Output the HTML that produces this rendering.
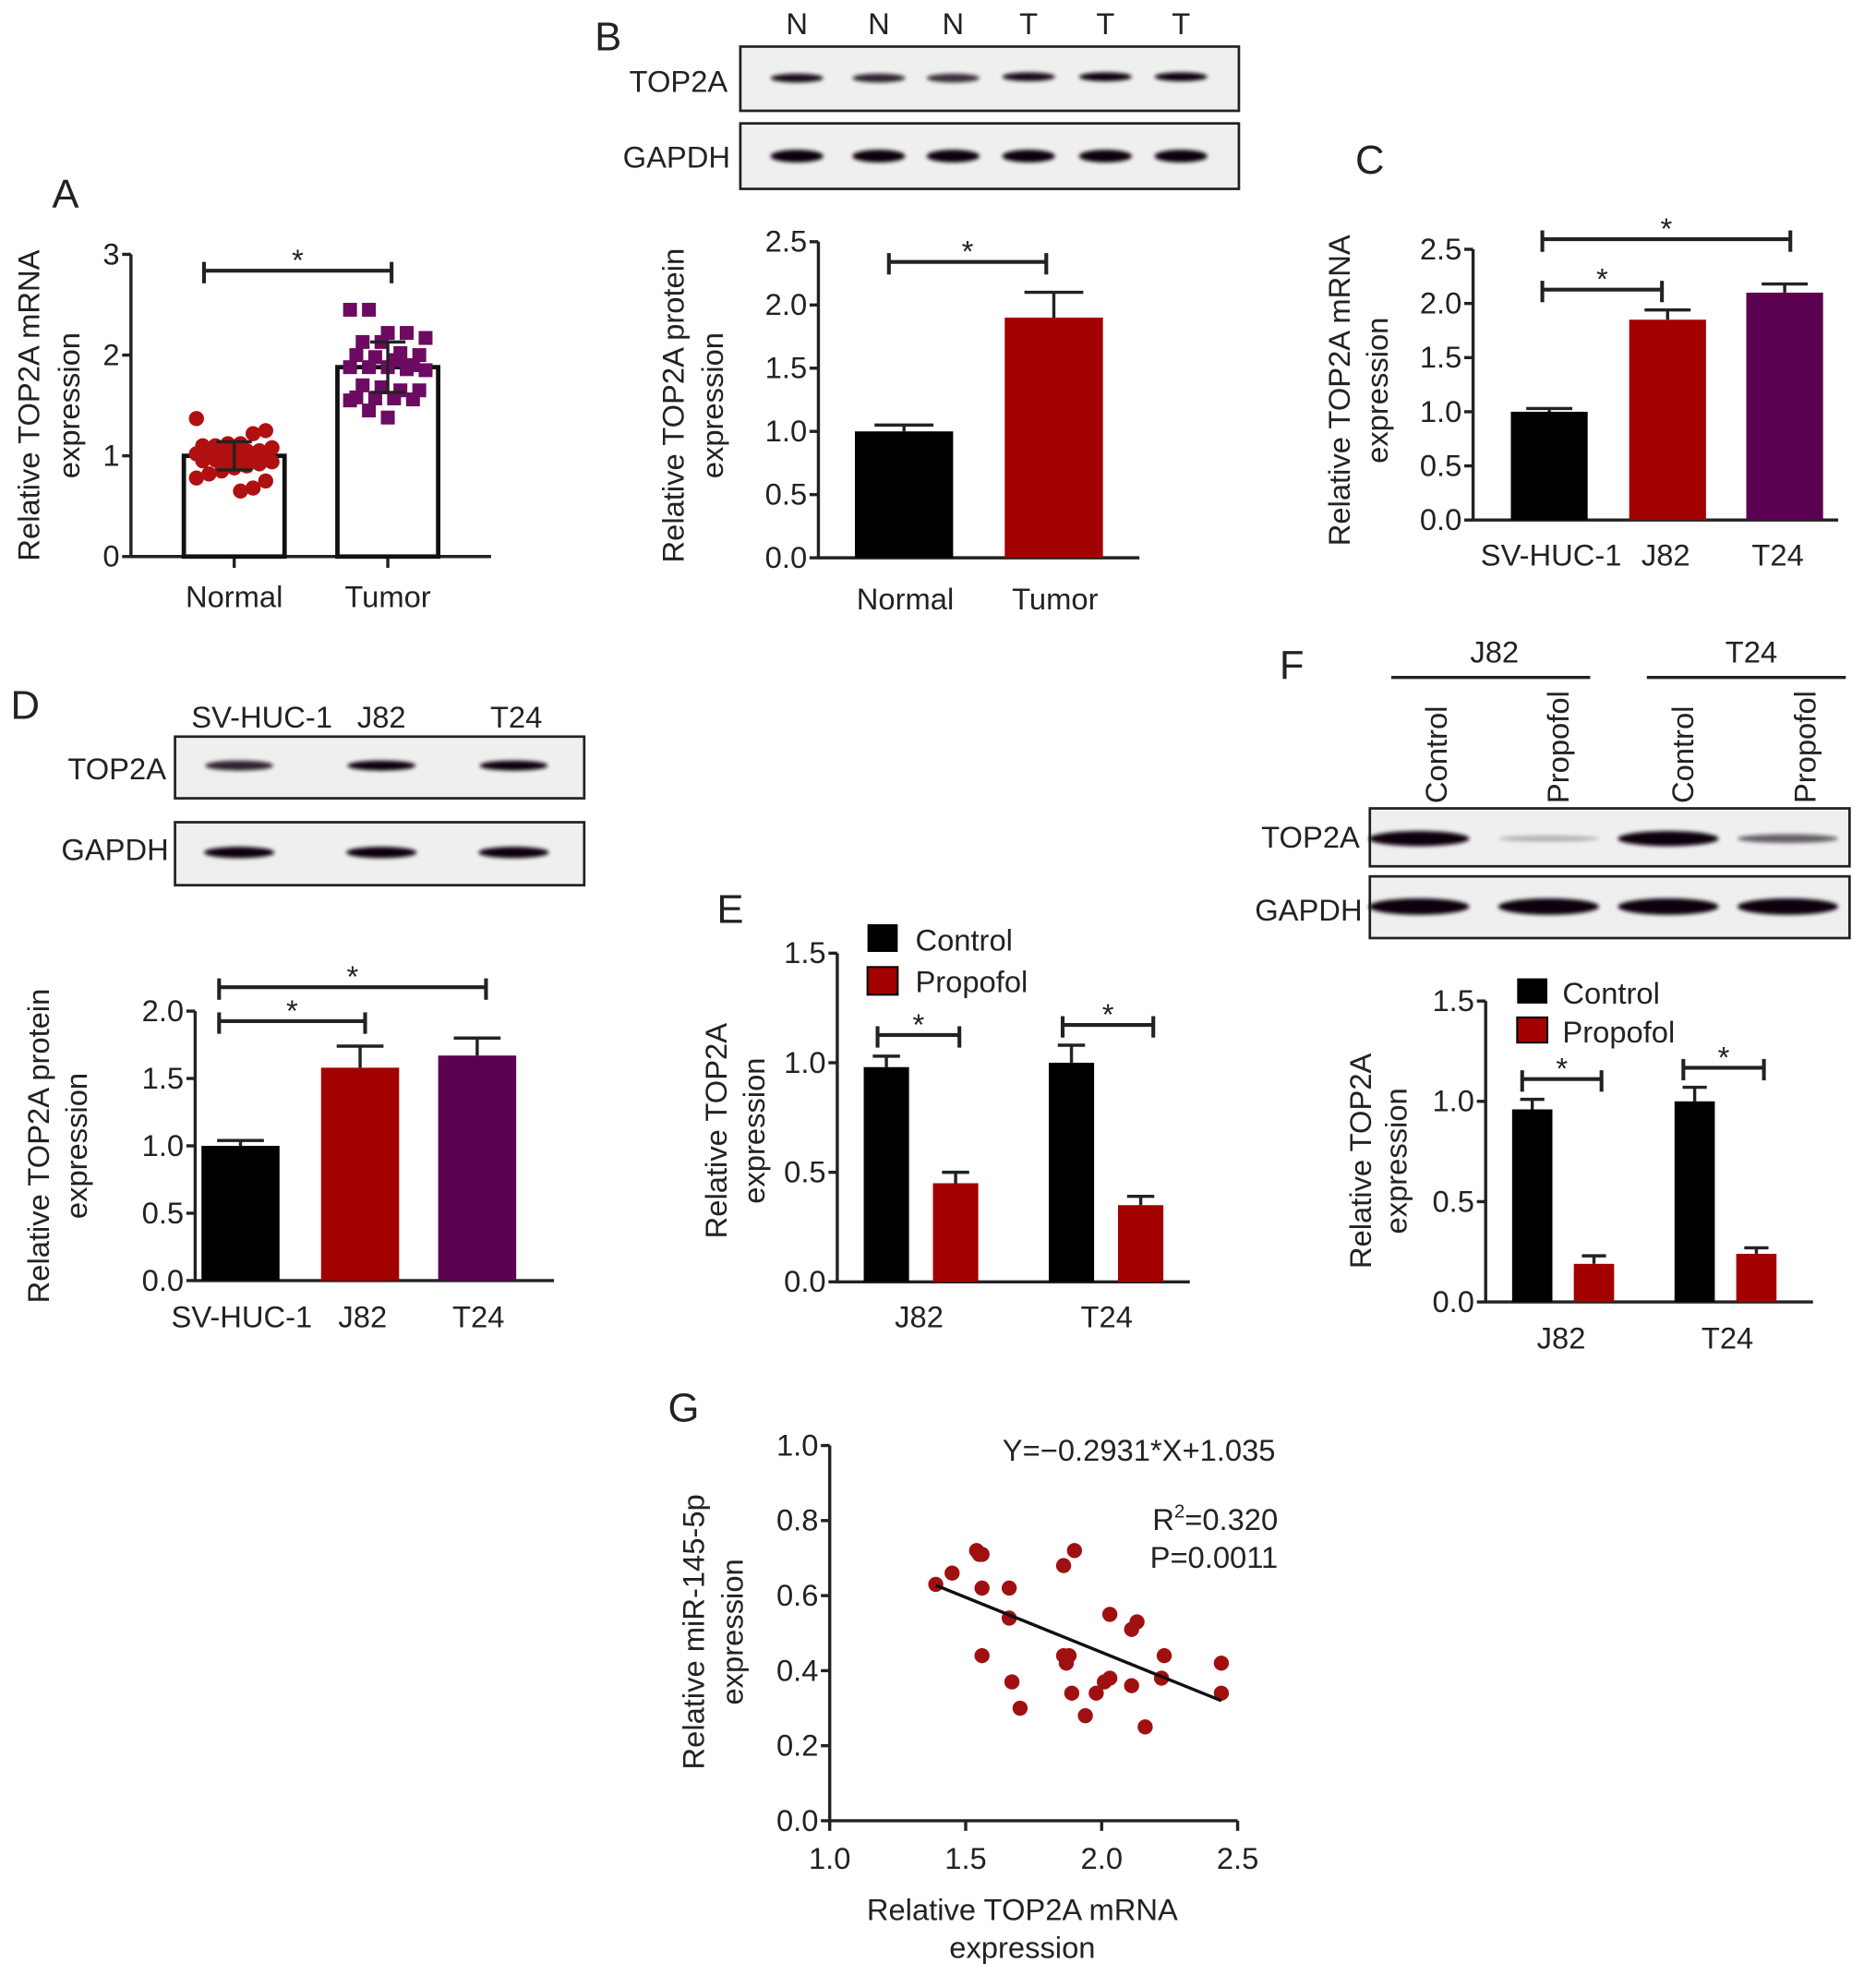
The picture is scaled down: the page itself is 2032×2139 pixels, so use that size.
<!DOCTYPE html>
<html><head><meta charset="utf-8">
<style>
html,body{margin:0;padding:0;background:#fff;}
svg{display:block;}
text{font-family:"Liberation Sans",Arial,sans-serif;fill:#222;}
</style></head>
<body>
<svg id="fig" xmlns="http://www.w3.org/2000/svg" width="2032" height="2139" viewBox="0 0 1490 1568.5">
<defs><filter id="blur" x="-20%" y="-100%" width="140%" height="300%"><feGaussianBlur stdDeviation="1.6"/></filter></defs>
</svg>
<script>
// ---------- data ----------
const aCategories = ["Normal","Tumor"];
const aMeans = [1.0, 1.88];
const aSD = [0.14, 0.25];
const aNormalPts = [1.37,1.25,1.22,1.12,1.12,1.1,1.1,1.08,1.05,1.05,1.04,1.03,1.02,1.02,1.0,1.0,0.98,0.97,0.96,0.95,0.94,0.92,0.9,0.88,0.85,0.82,0.78,0.75,0.68,0.65];
const aTumorPts = [2.45,2.45,2.22,2.22,2.17,2.13,2.13,2.02,2.0,2.0,1.98,1.95,1.9,1.88,1.88,1.88,1.86,1.85,1.7,1.68,1.65,1.65,1.58,1.57,1.57,1.56,1.55,1.45,1.38,1.9];
const aTicks = ["0","1","2","3"];

const bCategories = ["Normal","Tumor"];
const bValues = [1.0, 1.9];
const bErr = [0.05, 0.2];
const bTicks = ["0.0","0.5","1.0","1.5","2.0","2.5"];

const cCategories = ["SV-HUC-1","J82","T24"];
const cValues = [1.0, 1.85, 2.1];
const cErr = [0.03, 0.09, 0.08];
const cTicks = ["0.0","0.5","1.0","1.5","2.0","2.5"];

const dCategories = ["SV-HUC-1","J82","T24"];
const dValues = [1.0, 1.58, 1.67];
const dErr = [0.04, 0.16, 0.13];
const dTicks = ["0.0","0.5","1.0","1.5","2.0"];

const eGroups = ["J82","T24"];
const eControl = [0.98, 1.0];
const eControlErr = [0.05, 0.08];
const ePropofol = [0.45, 0.35];
const ePropofolErr = [0.05, 0.04];
const eTicks = ["0.0","0.5","1.0","1.5"];

const fGroups = ["J82","T24"];
const fControl = [0.96, 1.0];
const fControlErr = [0.05, 0.07];
const fPropofol = [0.19, 0.24];
const fPropofolErr = [0.04, 0.03];
const fTicks = ["0.0","0.5","1.0","1.5"];

const gX = [1.39,1.45,1.54,1.55,1.56,1.56,1.56,1.66,1.66,1.67,1.70,1.86,1.90,1.86,1.88,1.87,1.89,1.94,1.98,2.01,2.03,2.03,2.11,2.13,2.11,2.16,2.22,2.23,2.44,2.44];
const gY = [0.63,0.66,0.72,0.71,0.71,0.62,0.44,0.62,0.54,0.37,0.30,0.68,0.72,0.44,0.44,0.42,0.34,0.28,0.34,0.37,0.38,0.55,0.51,0.53,0.36,0.25,0.38,0.44,0.42,0.34];
const gSlope = -0.2931;
const gIntercept = 1.035;
const gXTicks = ["1.0","1.5","2.0","2.5"];
const gYTicks = ["0.0","0.2","0.4","0.6","0.8","1.0"];

// ---------- helpers ----------
const NS = "http://www.w3.org/2000/svg";
const svg = document.getElementById("fig");
const FS = 24;
function el(tag, attrs, name, parent) {
  const e = document.createElementNS(NS, tag);
  for (const k in attrs) e.setAttribute(k, attrs[k]);
  
  
  (parent || svg).appendChild(e);
  return e;
}
function txt(x, y, s, size, anchor, name, extra) {
  const a = Object.assign({x: x, y: y, "font-size": size, "text-anchor": anchor || "middle"}, extra || {});
  const t = el("text", a, name);
  t.textContent = s;
  return t;
}
function ln(x1, y1, x2, y2, w, name, color) {
  return el("line", {x1, y1, x2, y2, stroke: color || "#222", "stroke-width": w}, name);
}
function vtitle(x, cy, s, size, name) {
  return txt(x, cy, s, size, "middle", name, {transform: `rotate(-90 ${x} ${cy})`});
}
function yAxis(x, y0, y1, x2, ticks, vmax, size, prefix) {
  ln(x, y0 + 1, x, y1, 2.5, prefix + "-y-axis");
  ln(x, y0, x2, y0, 2.5, prefix + "-x-axis");
  ticks.forEach((t, i) => {
    const v = parseFloat(t);
    const y = y0 - (v / vmax) * (y0 - y1);
    ln(x - 7, y, x, y, 2.5, prefix + "-y-tick");
    txt(x - 9, y + 8, t, size, "end", prefix + "-y-tick-label");
  });
}
function bracket(x1, x2, y, name) {
  ln(x1, y, x2, y, 3, name);
  ln(x1, y - 7, x1, y + 10, 3, name + "-end");
  ln(x2, y - 7, x2, y + 10, 3, name + "-end");
  txt((x1 + x2) / 2, y, "*", 24, "middle", name + "-star");
}
function bar(x, w, v, err, scale, y0, fill, name) {
  const yt = y0 - v * scale;
  const ye = y0 - (v + err) * scale;
  ln(x + w / 2, yt, x + w / 2, ye, 2.5, name + "-error-bar");
  ln(x + w / 2 - w * 0.3, ye, x + w / 2 + w * 0.3, ye, 2.5, name + "-error-cap");
  el("rect", {x: x, y: yt, width: w, height: v * scale, fill: fill}, name);
}
function blotBox(x, y, w, h, name) {
  el("rect", {x, y, width: w, height: h, fill: "#efefef", stroke: "#222", "stroke-width": 2}, name);
}
function band(cx, cy, w, h, op, name) {
  el("ellipse", {cx, cy, rx: w / 2, ry: h / 2, fill: "#0b0610", opacity: op, filter: "url(#blur)"}, name);
}
const RED = "#a30000", PURPLE = "#5c0052", DOT = "#a01010";

// ---------- Panel A ----------
txt(52, 165, "A", 32, "middle", "panel-a-label");
(function () {
  const x0 = 104, y0 = 442, yTop = 202, vmax = 3, sc = (y0 - yTop) / vmax;
  yAxis(x0, y0, yTop, 390, aTicks, vmax, FS, "panel-a");
  const cx = [186, 308];
  cx.forEach((c, i) => {
    ln(c, y0, c, y0 + 9, 2.5, "panel-a-x-tick");
    txt(c, 482, aCategories[i], FS, "middle", "panel-a-x-label");
    el("rect", {x: c - 40, y: y0 - aMeans[i] * sc, width: 80, height: aMeans[i] * sc, fill: "#fff", stroke: "#111", "stroke-width": 3.5}, "panel-a-bar-" + aCategories[i].toLowerCase());
  });
  aNormalPts.forEach((v, i) => {
    const jx = ((i * 37) % 13 - 6) * 5;
    el("circle", {cx: cx[0] + jx, cy: y0 - v * sc, r: 6, fill: "#b01010"}, "panel-a-normal-point");
  });
  aTumorPts.forEach((v, i) => {
    const jx = ((i * 29) % 13 - 6) * 5;
    el("rect", {x: cx[1] + jx - 5.5, y: y0 - v * sc - 5.5, width: 11, height: 11, fill: "#6d0a62"}, "panel-a-tumor-point");
  });
  cx.forEach((c, i) => {
    const yl = y0 - (aMeans[i] - aSD[i]) * sc, yh = y0 - (aMeans[i] + aSD[i]) * sc;
    ln(c, yl, c, yh, 2.5, "panel-a-error-bar");
    ln(c - 14, yl, c + 14, yl, 2.5, "panel-a-error-cap");
    ln(c - 14, yh, c + 14, yh, 2.5, "panel-a-error-cap");
  });
  bracket(162, 311, 215, "panel-a-sig-bracket");
  vtitle(31, 322, "Relative TOP2A mRNA", FS, "panel-a-y-title");
  vtitle(63, 322, "expression", FS, "panel-a-y-title-2");
})();

// ---------- Panel B ----------
txt(483, 40, "B", 32, "middle", "panel-b-label");
(function () {
  const lanes = [633, 698, 757, 817, 878, 938];
  ["N","N","N","T","T","T"].forEach((l, i) => txt(lanes[i], 27, l, FS, "middle", "panel-b-lane-label"));
  blotBox(588, 37, 396, 51, "panel-b-top2a-blot");
  blotBox(588, 98, 396, 52, "panel-b-gapdh-blot");
  txt(578, 73, "TOP2A", FS, "end", "panel-b-top2a-row-label");
  txt(580, 133, "GAPDH", FS, "end", "panel-b-gapdh-row-label");
  const topOp = [0.95, 0.85, 0.8, 0.95, 1, 1];
  lanes.forEach((c, i) => band(c, 62 - (i > 2 ? 1 : 0), 42, 7, topOp[i], "panel-b-top2a-band"));
  lanes.forEach((c, i) => band(c, 124, 42, 10, 1, "panel-b-gapdh-band"));
  const x0 = 650, y0 = 443, yTop = 192, vmax = 2.5, sc = (y0 - yTop) / vmax;
  yAxis(x0, y0, yTop, 905, bTicks, vmax, FS, "panel-b");
  const bx = [679, 798], fills = ["#000", RED];
  bx.forEach((x, i) => {
    bar(x, 78, bValues[i], bErr[i], sc, y0, fills[i], "panel-b-bar-" + bCategories[i].toLowerCase());
    txt(x + 40, 484, bCategories[i], FS, "middle", "panel-b-x-label");
  });
  bracket(706, 831, 208, "panel-b-sig-bracket");
  vtitle(543, 322, "Relative TOP2A protein", FS, "panel-b-y-title");
  vtitle(574, 322, "expression", FS, "panel-b-y-title-2");
})();

// ---------- Panel C ----------
txt(1088, 138, "C", 32, "middle", "panel-c-label");
(function () {
  const x0 = 1170, y0 = 413, yTop = 198, vmax = 2.5, sc = (y0 - yTop) / vmax;
  yAxis(x0, y0, yTop, 1460, cTicks, vmax, FS, "panel-c");
  const bx = [1200, 1294, 1387], fills = ["#000", RED, PURPLE], lx = [1232, 1323, 1412];
  bx.forEach((x, i) => {
    bar(x, 61, cValues[i], cErr[i], sc, y0, fills[i], "panel-c-bar-" + cCategories[i].toLowerCase());
    txt(lx[i], 449, cCategories[i], FS, "middle", "panel-c-x-label");
  });
  bracket(1225, 1320, 230, "panel-c-sig-bracket-j82");
  bracket(1225, 1422, 190, "panel-c-sig-bracket-t24");
  vtitle(1072, 310, "Relative TOP2A mRNA", FS, "panel-c-y-title");
  vtitle(1102, 310, "expression", FS, "panel-c-y-title-2");
})();

// ---------- Panel D ----------
txt(20, 571, "D", 32, "middle", "panel-d-label");
(function () {
  const lanes = [190, 303, 408];
  const ll = [208, 303, 410];
  dCategories.forEach((c, i) => txt(ll[i], 578, c, FS, "middle", "panel-d-lane-label"));
  blotBox(139, 585, 325, 49, "panel-d-top2a-blot");
  blotBox(139, 653, 325, 50, "panel-d-gapdh-blot");
  txt(132, 619, "TOP2A", FS, "end", "panel-d-top2a-row-label");
  txt(134, 683, "GAPDH", FS, "end", "panel-d-gapdh-row-label");
  const op = [0.85, 1, 1];
  lanes.forEach((c, i) => band(c, 608, 54, 8, op[i], "panel-d-top2a-band"));
  lanes.forEach((c, i) => band(c, 677, 56, 9, 1, "panel-d-gapdh-band"));
  const x0 = 155, y0 = 1017, yTop = 803, vmax = 2.0, sc = (y0 - yTop) / vmax;
  yAxis(x0, y0, yTop, 440, dTicks, vmax, FS, "panel-d");
  const bx = [160, 255, 348], fills = ["#000", RED, PURPLE], lx = [192, 288, 380];
  bx.forEach((x, i) => {
    bar(x, 62, dValues[i], dErr[i], sc, y0, fills[i], "panel-d-bar-" + dCategories[i].toLowerCase());
    txt(lx[i], 1054, dCategories[i], FS, "middle", "panel-d-x-label");
  });
  bracket(174, 290, 811, "panel-d-sig-bracket-j82");
  bracket(174, 386, 784, "panel-d-sig-bracket-t24");
  vtitle(39, 910, "Relative TOP2A protein", FS, "panel-d-y-title");
  vtitle(69, 910, "expression", FS, "panel-d-y-title-2");
})();

// ---------- Panel E ----------
txt(580, 733, "E", 32, "middle", "panel-e-label");
(function () {
  const x0 = 665, y0 = 1018, yTop = 757, vmax = 1.5, sc = (y0 - yTop) / vmax;
  yAxis(x0, y0, yTop, 945, eTicks, vmax, FS, "panel-e");
  const gx = [686, 833], lx = [730, 879];
  gx.forEach((x, i) => {
    bar(x, 36, eControl[i], eControlErr[i], sc, y0, "#000", "panel-e-bar-control-" + eGroups[i].toLowerCase());
    bar(x + 55, 36, ePropofol[i], ePropofolErr[i], sc, y0, RED, "panel-e-bar-propofol-" + eGroups[i].toLowerCase());
    txt(lx[i], 1054, eGroups[i], FS, "middle", "panel-e-x-label");
  });
  bracket(697, 762, 822, "panel-e-sig-bracket-j82");
  bracket(844, 916, 814, "panel-e-sig-bracket-t24");
  el("rect", {x: 689, y: 734, width: 24, height: 22, fill: "#000"}, "panel-e-legend-control-swatch");
  txt(727, 755, "Control", FS, "start", "panel-e-legend-control");
  el("rect", {x: 689, y: 768, width: 24, height: 22, fill: RED, stroke: "#000", "stroke-width": 1.5}, "panel-e-legend-propofol-swatch");
  txt(727, 788, "Propofol", FS, "start", "panel-e-legend-propofol");
  vtitle(577, 898, "Relative TOP2A", FS, "panel-e-y-title");
  vtitle(607, 898, "expression", FS, "panel-e-y-title-2");
})();

// ---------- Panel F ----------
txt(1026, 539, "F", 32, "middle", "panel-f-label");
(function () {
  txt(1187, 526, "J82", FS, "middle", "panel-f-group-j82");
  ln(1105, 538, 1263, 538, 2.5, "panel-f-group-line-j82");
  txt(1391, 526, "T24", FS, "middle", "panel-f-group-t24");
  ln(1308, 538, 1466, 538, 2.5, "panel-f-group-line-t24");
  const lanes = [1127, 1230, 1325, 1420];
  const lblx = [1149, 1246, 1345, 1442];
  ["Control","Propofol","Control","Propofol"].forEach((s, i) =>
    txt(lblx[i], 638, s, FS, "start", "panel-f-lane-label", {transform: `rotate(-90 ${lblx[i]} 638)`}));
  blotBox(1088, 642, 381, 46, "panel-f-top2a-blot");
  blotBox(1088, 696, 381, 49, "panel-f-gapdh-blot");
  txt(1080, 673, "TOP2A", FS, "end", "panel-f-top2a-row-label");
  txt(1082, 731, "GAPDH", FS, "end", "panel-f-gapdh-row-label");
  const op = [1, 0.25, 1, 0.6];
  const th = [12, 5, 12, 7];
  lanes.forEach((c, i) => band(c, 666, 80, th[i], op[i], "panel-f-top2a-band"));
  lanes.forEach((c, i) => band(c, 720, 80, 13, 1, "panel-f-gapdh-band"));
  const x0 = 1180, y0 = 1034, yTop = 795, vmax = 1.5, sc = (y0 - yTop) / vmax;
  yAxis(x0, y0, yTop, 1440, fTicks, vmax, FS, "panel-f");
  const gx = [1201, 1330], lx = [1240, 1372];
  gx.forEach((x, i) => {
    bar(x, 32, fControl[i], fControlErr[i], sc, y0, "#000", "panel-f-bar-control-" + fGroups[i].toLowerCase());
    bar(x + 49, 32, fPropofol[i], fPropofolErr[i], sc, y0, RED, "panel-f-bar-propofol-" + fGroups[i].toLowerCase());
    txt(lx[i], 1071, fGroups[i], FS, "middle", "panel-f-x-label");
  });
  bracket(1209, 1272, 857, "panel-f-sig-bracket-j82");
  bracket(1337, 1401, 848, "panel-f-sig-bracket-t24");
  el("rect", {x: 1205, y: 777, width: 24, height: 20, fill: "#000"}, "panel-f-legend-control-swatch");
  txt(1241, 797, "Control", FS, "start", "panel-f-legend-control");
  el("rect", {x: 1205, y: 808, width: 24, height: 20, fill: RED, stroke: "#000", "stroke-width": 1.5}, "panel-f-legend-propofol-swatch");
  txt(1241, 828, "Propofol", FS, "start", "panel-f-legend-propofol");
  vtitle(1089, 922, "Relative TOP2A", FS, "panel-f-y-title");
  vtitle(1117, 922, "expression", FS, "panel-f-y-title-2");
})();

// ---------- Panel G ----------
txt(543, 1129, "G", 32, "middle", "panel-g-label");
(function () {
  const x0 = 659, y0 = 1446, xR = 983, yTop = 1148;
  const xmin = 1.0, xmax = 2.5, ymax = 1.0;
  const sx = v => x0 + (v - xmin) / (xmax - xmin) * (xR - x0);
  const sy = v => y0 - v / ymax * (y0 - yTop);
  ln(x0, y0 + 1, x0, yTop, 2.5, "panel-g-y-axis");
  ln(x0, y0, xR, y0, 2.5, "panel-g-x-axis");
  gYTicks.forEach(t => {
    const y = sy(parseFloat(t));
    ln(x0 - 7, y, x0, y, 2.5, "panel-g-y-tick");
    txt(x0 - 9, y + 8, t, FS, "end", "panel-g-y-tick-label");
  });
  gXTicks.forEach(t => {
    const x = sx(parseFloat(t));
    ln(x, y0, x, y0 + 8, 2.5, "panel-g-x-tick");
    txt(x, 1484, t, FS, "middle", "panel-g-x-tick-label");
  });
  gX.forEach((v, i) => el("circle", {cx: sx(v), cy: sy(gY[i]), r: 6, fill: DOT}, "panel-g-point"));
  const xa = Math.min(...gX), xb = Math.max(...gX);
  el("line", {x1: sx(xa), y1: sy(gSlope * xa + gIntercept), x2: sx(xb), y2: sy(gSlope * xb + gIntercept), stroke: "#111", "stroke-width": 2.5}, "panel-g-regression-line");
  txt(1013, 1160, "Y=\u22120.2931*X+1.035", FS, "end", "panel-g-equation");
  const r = txt(1015, 1215, "", FS, "end", "panel-g-r-squared");
  const t1 = el("tspan", {}, "panel-g-r", r); t1.textContent = "R";
  const t2 = el("tspan", {"font-size": 15, dy: -10}, "panel-g-r-sup", r); t2.textContent = "2";
  const t3 = el("tspan", {dy: 10}, "panel-g-r-val", r); t3.textContent = "=0.320";
  txt(1015, 1245, "P=0.0011", FS, "end", "panel-g-p-value");
  txt(812, 1525, "Relative TOP2A mRNA", FS, "middle", "panel-g-x-title");
  txt(812, 1555, "expression", FS, "middle", "panel-g-x-title-2");
  vtitle(559, 1296, "Relative miR-145-5p", FS, "panel-g-y-title");
  vtitle(590, 1296, "expression", FS, "panel-g-y-title-2");
})();
</script>
</body></html>
